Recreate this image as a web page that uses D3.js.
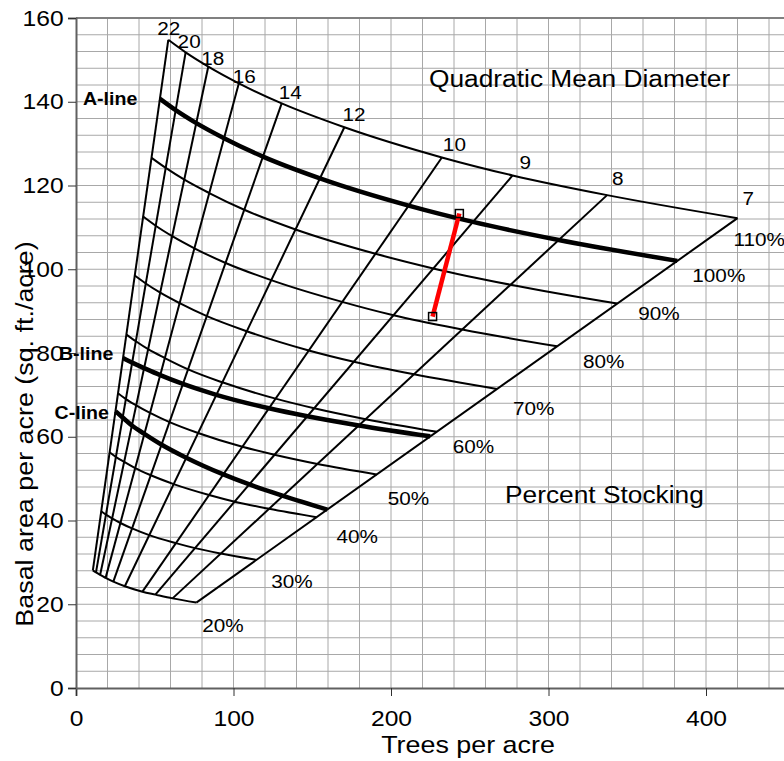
<!DOCTYPE html>
<html lang="en">
<head>
<meta charset="UTF-8" />
<title>Stocking chart</title>
<script src="https://d3js.org/d3.v7.min.js"></script>
<style>
  body { margin: 0; background: #fff; }
  svg { display: block; font-family: Arial, "Liberation Sans", sans-serif; }
</style>
</head>
<body>
<div id="chart"></div>
<script>
// quadratic mean diameter of each radial line (inches)
const diameters = ['22', '20', '18', '16', '14', '12', '10', '9', '8', '7'];
const stockingLabels = ['20%', '30%', '40%', '50%', '60%', '70%', '80%', '90%', '100%', '110%'];

// [trees per acre, basal area] where each stocking line meets each diameter line
const line20 = [[10.7, 28.1], [12.7, 27.6], [15.3, 27.0], [18.8, 26.3], [23.7, 25.4], [31.0, 24.3], [42.2, 23.0], [50.4, 22.3], [61.3, 21.4], [76.4, 20.4]];
const line30 = [[16.0, 42.2], [19.0, 41.4], [22.9, 40.5], [28.2, 39.4], [35.6, 38.1], [46.5, 36.5], [63.4, 34.6], [75.6, 33.4], [92.0, 32.1], [114.5, 30.6]];
const line40 = [[21.3, 56.3], [25.3, 55.2], [30.6, 54.0], [37.6, 52.5], [47.5, 50.8], [62.0, 48.7], [84.5, 46.1], [100.8, 44.5], [122.6, 42.8], [152.7, 40.8]];
const line50 = [[26.7, 70.4], [31.7, 69.0], [38.2, 67.5], [47.0, 65.7], [59.4, 63.5], [77.5, 60.9], [105.6, 57.6], [126.0, 55.7], [153.3, 53.5], [190.9, 51.0]];
const line60 = [[32.0, 84.4], [38.0, 82.8], [45.8, 80.9], [56.4, 78.8], [71.2, 76.1], [92.9, 73.0], [126.7, 69.1], [151.2, 66.8], [183.9, 64.2], [229.1, 61.2]];
const line70 = [[37.3, 98.5], [44.3, 96.6], [53.5, 94.4], [65.8, 91.9], [83.1, 88.8], [108.4, 85.2], [147.8, 80.6], [176.4, 77.9], [214.6, 74.9], [267.3, 71.4]];
const line80 = [[42.6, 112.6], [50.6, 110.4], [61.1, 107.9], [75.2, 105.0], [95.0, 101.5], [123.9, 97.4], [169.0, 92.2], [201.6, 89.0], [245.2, 85.6], [305.4, 81.6]];
const line90 = [[48.0, 126.6], [57.0, 124.2], [68.8, 121.4], [84.6, 118.2], [106.8, 114.2], [139.4, 109.5], [190.1, 103.7], [226.8, 100.2], [275.9, 96.3], [343.6, 91.8]];
const line100 = [[53.3, 140.7], [63.3, 138.0], [76.4, 134.9], [94.0, 131.3], [118.7, 126.9], [154.9, 121.7], [211.2, 115.2], [252.0, 111.3], [306.5, 107.0], [381.8, 102.0]];
const line110 = [[58.6, 154.8], [69.6, 151.8], [84.0, 148.4], [103.4, 144.4], [130.6, 139.6], [170.4, 133.9], [232.3, 126.7], [277.2, 122.4], [337.2, 117.7], [420.0, 112.2]];

// B-line and C-line
const bLine = [[29.8, 78.8], [35.6, 77.7], [43.2, 76.4], [53.5, 74.7], [67.9, 72.6], [89.1, 70.0], [122.5, 66.8], [146.9, 64.9], [179.6, 62.7], [224.9, 60.1]];
const cLine = [[25.1, 66.1], [29.6, 64.6], [35.5, 62.7], [43.4, 60.7], [54.4, 58.1], [70.0, 55.0], [93.6, 51.0], [110.1, 48.6], [131.5, 45.9], [159.6, 42.6]];

// red example stand (before / after thinning)
const standMove = [[243.4, 113.3], [226.4, 88.7]];

const xTicks = [0, 100, 200, 300, 400];
const yTicks = [0, 20, 40, 60, 80, 100, 120, 140, 160];

const stockingLines = [line20, line30, line40, line50, line60, line70, line80, line90, line100, line110];

const margin = { top: 18, right: 0, bottom: 73, left: 76 };
const W = 784, H = 761;
const width = 708.75, height = H - margin.top - margin.bottom;
const STRETCH = 1.12; // text in the original is drawn a bit wide

const svg = d3.select('#chart').append('svg').attr('width', W).attr('height', H);
const g = svg.append('g').attr('transform', `translate(${margin.left},${margin.top})`);

const x = d3.scaleLinear().domain([0, 450]).range([0, width]);
const y = d3.scaleLinear().domain([0, 160]).range([height, 0]);

function addText(parent, px, py, str, size, opts = {}) {
  const rot = opts.rotate ? ` rotate(${opts.rotate})` : '';
  return parent.append('text')
    .attr('transform', `translate(${px},${py})${rot} scale(${STRETCH},1)`)
    .attr('font-size', size)
    .attr('font-weight', opts.bold ? 'bold' : 'normal')
    .attr('text-anchor', opts.anchor || 'start')
    .attr('fill', '#000')
    .text(str);
}

// grid
const grid = g.append('g');
grid.selectAll('.gx').data(d3.range(20, 450, 20)).join('line')
  .attr('x1', d => x(d)).attr('x2', d => x(d))
  .attr('y1', 0).attr('y2', height)
  .attr('stroke', '#a8a8a8').attr('stroke-width', 1);
grid.selectAll('.gy').data(d3.range(4, 160, 4)).join('line')
  .attr('x1', 0).attr('x2', width)
  .attr('y1', d => y(d)).attr('y2', d => y(d))
  .attr('stroke', '#a8a8a8').attr('stroke-width', 1);
grid.append('line')
  .attr('x1', 0).attr('x2', width).attr('y1', y(160)).attr('y2', y(160))
  .attr('stroke', '#808080').attr('stroke-width', 2);

// axes
const xAxis = g.append('g')
  .attr('transform', `translate(0,${height})`)
  .call(d3.axisBottom(x).tickValues(xTicks).tickSize(8).tickPadding(14));
const yAxis = g.append('g')
  .call(d3.axisLeft(y).tickValues(yTicks).tickSize(8).tickPadding(3));
[xAxis, yAxis].forEach(a => {
  a.select('.domain').attr('stroke', '#606060').attr('stroke-width', 2);
  a.selectAll('.tick line').attr('stroke', '#303030');
  a.selectAll('.tick text')
    .attr('font-size', 22)
    .attr('fill', '#000')
    .attr('font-family', 'Arial, "Liberation Sans", sans-serif')
    .attr('transform', `scale(${STRETCH},1)`);
});

addText(svg, 468, 753, 'Trees per acre', 24, { anchor: 'middle' });
addText(svg, 33, 434, 'Basal area per acre (sq. ft./acre)', 24, { anchor: 'middle', rotate: -90 });

const line = d3.line().x(d => x(d[0])).y(d => y(d[1])).curve(d3.curveMonotoneX);

// diameter lines (straight, from 20% to 110% stocking)
g.append('g').selectAll('line').data(diameters).join('line')
  .attr('x1', (d, i) => x(line20[i][0])).attr('y1', (d, i) => y(line20[i][1]))
  .attr('x2', (d, i) => x(line110[i][0])).attr('y2', (d, i) => y(line110[i][1]))
  .attr('stroke', '#000').attr('stroke-width', 2);

// stocking lines, 100% drawn heavy as the A-line
g.append('g').selectAll('path').data(stockingLines).join('path')
  .attr('d', line)
  .attr('fill', 'none')
  .attr('stroke', '#000')
  .attr('stroke-width', (d, i) => stockingLabels[i] === '100%' ? 4.5 : 2);

g.append('g').selectAll('path').data([bLine, cLine]).join('path')
  .attr('d', line)
  .attr('fill', 'none')
  .attr('stroke', '#000')
  .attr('stroke-width', 4.5);

// diameter labels near the top ends
const diaOffset = [[-11, -5], [-8, -4], [-7, -2], [-6, 0], [-3, -4], [-2, -6], [1, -6], [7, -6], [5, -10], [5, -13]];
diameters.forEach((d, i) => {
  addText(g, x(line110[i][0]) + diaOffset[i][0], y(line110[i][1]) + diaOffset[i][1], d, 18.5);
});

// stocking labels near the right ends
const pctOffset = [[6, 29], [15, 28], [20, 26], [11, 31], [16, 21], [16, 26], [26, 22], [21, 16], [15, 21], [-4, 28]];
stockingLabels.forEach((s, i) => {
  const end = stockingLines[i][stockingLines[i].length - 1];
  addText(g, x(end[0]) + pctOffset[i][0], y(end[1]) + pctOffset[i][1], s, 18.5);
});

addText(g, x(line100[0][0]) - 77, y(line100[0][1]) + 6, 'A-line', 17.5, { bold: true });
addText(g, x(bLine[0][0]) - 64, y(bLine[0][1]) + 2, 'B-line', 17.5, { bold: true });
addText(g, x(cLine[0][0]) - 61, y(cLine[0][1]) + 8, 'C-line', 17.5, { bold: true });

addText(svg, 429, 87, 'Quadratic Mean Diameter', 23.5);
addText(svg, 505, 503, 'Percent Stocking', 23.5);

// example stand thinning
g.append('path')
  .attr('d', d3.line().x(d => x(d[0])).y(d => y(d[1]))(standMove))
  .attr('fill', 'none').attr('stroke', '#ff0000').attr('stroke-width', 4.5);
g.append('g').selectAll('rect').data(standMove).join('rect')
  .attr('x', d => x(d[0]) - 4).attr('y', d => y(d[1]) - 4)
  .attr('width', 8).attr('height', 8)
  .attr('fill', 'none').attr('stroke', '#000').attr('stroke-width', 1.5);
</script>
</body>
</html>
